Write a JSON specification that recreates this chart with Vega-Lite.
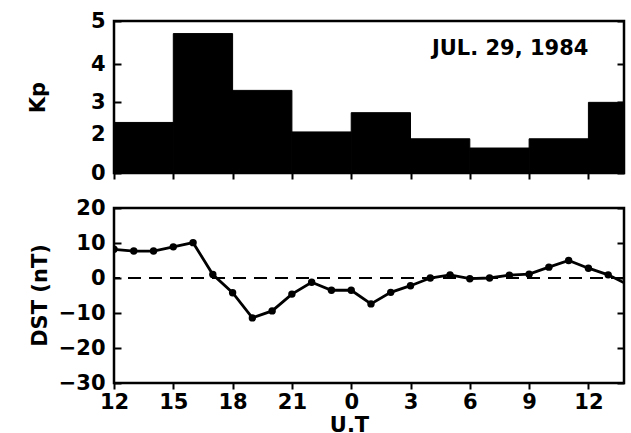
{
  "$schema": "https://vega.github.io/schema/vega-lite/v6.json",
  "padding": {"left": 25, "top": 8, "right": 8, "bottom": 0},
  "background": "white",
  "bounds": "flush",
  "spacing": 35,
  "datasets": {
    "kp": [
      {"start": 12, "end": 15, "Kp": 2.4},
      {"start": 15, "end": 18, "Kp": 4.72},
      {"start": 18, "end": 21, "Kp": 3.33},
      {"start": 21, "end": 24, "Kp": 2.09},
      {"start": 24, "end": 27, "Kp": 2.7},
      {"start": 27, "end": 30, "Kp": 1.85},
      {"start": 30, "end": 33, "Kp": 1.5},
      {"start": 33, "end": 36, "Kp": 1.85},
      {"start": 36, "end": 39, "Kp": 3.0}
    ],
    "dst": [
      {"hour": 12, "DST": 8.2}, {"hour": 13, "DST": 7.7}, {"hour": 14, "DST": 7.7},
      {"hour": 15, "DST": 8.9}, {"hour": 16, "DST": 10.1}, {"hour": 17, "DST": 1.0},
      {"hour": 18, "DST": -4.2}, {"hour": 19, "DST": -11.4}, {"hour": 20, "DST": -9.4},
      {"hour": 21, "DST": -4.6}, {"hour": 22, "DST": -1.2}, {"hour": 23, "DST": -3.5},
      {"hour": 24, "DST": -3.5}, {"hour": 25, "DST": -7.4}, {"hour": 26, "DST": -4.1},
      {"hour": 27, "DST": -2.2}, {"hour": 28, "DST": 0.0}, {"hour": 29, "DST": 0.9},
      {"hour": 30, "DST": -0.2}, {"hour": 31, "DST": 0.0}, {"hour": 32, "DST": 0.8},
      {"hour": 33, "DST": 1.1}, {"hour": 34, "DST": 3.1}, {"hour": 35, "DST": 5.0},
      {"hour": 36, "DST": 2.8}, {"hour": 37, "DST": 0.9}, {"hour": 38, "DST": -1.9}
    ]
  },
  "vconcat": [
    {
      "width": 510,
      "height": 152,
      "layer": [
        {
          "data": {"name": "kp"},
          "mark": {"type": "bar", "color": "black", "stroke": "black", "strokeWidth": 1, "clip": true},
          "encoding": {
            "x": {"field": "start", "type": "quantitative",
                  "scale": {"domain": [12, 37.8], "nice": false, "zero": false},
                  "axis": {"values": [12, 15, 18, 21, 24, 27, 30, 33, 36], "labels": false, "title": null, "tickSize": 6}},
            "x2": {"field": "end"},
            "y": {"field": "Kp", "type": "quantitative",
                  "scale": {"type": "pow", "exponent": 1.5, "domain": [0, 5], "nice": false},
                  "axis": {"values": [0, 2, 3, 4, 5], "offset": -7, "tickSize": 7, "labelPadding": 9,
                           "title": "Kp", "titleX": -83, "titleY": 76, "titleAngle": -90,
                           "titleAlign": "center", "titleBaseline": "middle"}},
            "y2": {"datum": 0}
          }
        },
        {
          "data": {"values": [{"label": "JUL. 29, 1984", "hx": 36, "ky": 4.36}]},
          "mark": {"type": "text", "align": "right", "baseline": "middle", "font": "DejaVu Sans", "fontWeight": "bold", "fontSize": 21, "color": "black"},
          "encoding": {
            "x": {"field": "hx", "type": "quantitative"},
            "y": {"field": "ky", "type": "quantitative",
                  "axis": {"orient": "right", "values": [0, 2, 3, 4, 5], "offset": -7, "tickSize": 7, "labels": false, "title": null}},
            "text": {"field": "label"}
          }
        }
      ],
      "resolve": {"axis": {"y": "independent"}}
    },
    {
      "width": 510,
      "height": 175,
      "layer": [
        {
          "data": {"values": [{"zero": 0}]},
          "mark": {"type": "rule", "color": "black", "strokeWidth": 2.2, "strokeDash": [13, 8]},
          "encoding": {
            "y": {"field": "zero", "type": "quantitative",
                  "scale": {"domain": [-30, 20], "nice": false},
                  "axis": {"values": [-30, -20, -10, 0, 10, 20], "offset": -7, "tickSize": 7, "labelPadding": 9,
                           "title": "DST (nT)", "titleX": -81, "titleY": 87, "titleAngle": -90,
                           "titleAlign": "center", "titleBaseline": "middle"}}
          }
        },
        {
          "data": {"name": "dst"},
          "mark": {"type": "line", "color": "black", "strokeWidth": 2.8, "clip": true,
                   "point": {"filled": true, "color": "black", "size": 55}},
          "encoding": {
            "x": {"field": "hour", "type": "quantitative",
                  "scale": {"domain": [12, 37.8], "nice": false, "zero": false},
                  "axis": {"values": [12, 15, 18, 21, 24, 27, 30, 33, 36], "labelExpr": "datum.value % 24",
                           "tickSize": 6, "labelPadding": 2, "labelFlush": false, "labelOverlap": false,
                           "title": "U.T", "titleX": 235, "titleY": 31, "titleBaseline": "top", "titleAlign": "center"}},
            "y": {"field": "DST", "type": "quantitative",
                  "axis": {"orient": "right", "values": [-30, -20, -10, 0, 10, 20], "offset": -7, "tickSize": 7, "labels": false, "title": null}}
          }
        }
      ],
      "resolve": {"axis": {"y": "independent"}}
    }
  ],
  "config": {
    "view": {"stroke": "black", "strokeWidth": 2.5},
    "axis": {
      "domain": false, "grid": false, "tickColor": "black", "tickWidth": 2,
      "labelFont": "DejaVu Sans", "labelFontWeight": "bold", "labelFontSize": 21, "labelColor": "black",
      "titleFont": "DejaVu Sans", "titleFontWeight": "bold", "titleFontSize": 21, "titleColor": "black"
    }
  }
}
